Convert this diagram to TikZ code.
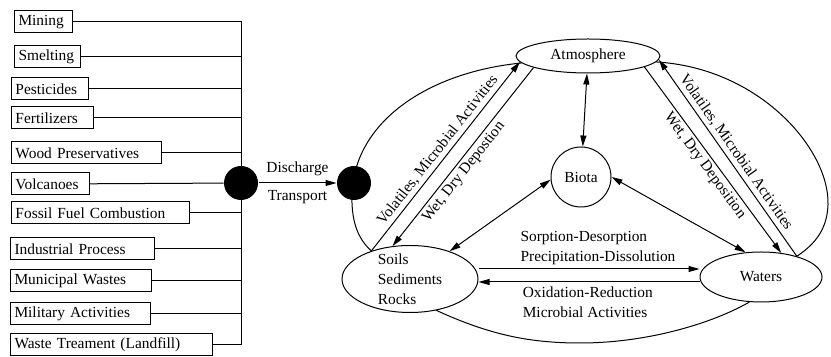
\documentclass[tikz,border=0pt]{standalone}
\usepackage{fontspec}
\setmainfont{Liberation Serif}
\usetikzlibrary{arrows.meta,shapes.geometric,calc}

\begin{document}
\begin{tikzpicture}[
  x=0.5pt, y=-0.5pt,
  every node/.style={font=\fontsize{7.7}{10}\selectfont},
  src/.style={rectangle, draw, anchor=west, text width=#1, align=left,
              inner xsep=2pt, inner ysep=0pt, minimum height=11pt},
  hub/.style={circle, fill=black, minimum size=17pt, inner sep=0pt},
  comp/.style={ellipse, draw, inner sep=0pt},
  arr/.style={-{Triangle[length=5.5pt,width=3pt]}},
  rarr/.style={{Triangle[length=5.5pt,width=3pt]}-},
  darr/.style={{Triangle[length=5.5pt,width=3pt]}-{Triangle[length=5.5pt,width=3pt]}},
  lbl/.style={sloped, inner sep=1.5pt},
  line width=0.5pt
]
  \useasboundingbox (0,0) rectangle (831,357);

  % -- sources --
  \node[src=25pt]   (mining)      at (14,22)  {Mining};
  \node[src=29pt]   (smelting)    at (14,57)  {Smelting};
  \node[src=34.5pt] (pesticides)  at (11,89)  {Pesticides};
  \node[src=37pt]   (fertilizers) at (11,118) {Fertilizers};
  \node[src=71pt]   (wood)        at (11,153) {Wood Preservatives};
  \node[src=35pt]   (volcanoes)   at (11,184) {Volcanoes};
  \node[src=85pt]   (fossil)      at (11,213) {Fossil Fuel Combustion};
  \node[src=68pt]   (industrial)  at (10,249) {Industrial Process};
  \node[src=66.5pt] (municipal)   at (10,281) {Municipal Wastes};
  \node[src=66pt]   (military)    at (10,314) {Military Activities};
  \node[src=97pt]   (landfill)    at (10,345) {Waste Treament (Landfill)};

  \node[hub] (hubL) at (241,183) {};
  \node[hub] (hubR) at (354,183) {};

  \draw (mining.east) -- (mining.east -| hubL) -- (landfill.east -| hubL) -- (landfill.east);
  \foreach \s in {smelting,pesticides,fertilizers,wood,fossil,industrial,municipal,military}
    \draw (\s.east) -- (\s.east -| hubL);
  \draw (volcanoes) -- (hubL);

  \draw[arr] (hubL) -- node[above]{Discharge} node[below]{Transport} (hubR);

  % -- compartments --
  \node[comp, minimum width=72pt, minimum height=17pt] (atm) at (588,56) {Atmosphere};
  \node[circle, draw, minimum size=30pt, inner sep=0pt] (biota) at (581,177) {Biota};
  \node[comp, minimum width=68pt, minimum height=33.5pt, inner ysep=-1pt, align=left] (soils) at (410,279) {Soils\\Sediments\\Rocks};
  \node[comp, minimum width=61pt, minimum height=25pt] (waters) at (761,277) {Waters};

  % -- outer loop --
  \draw (atm.186) .. controls (430,72) and (356,120) .. (352,192)
                  .. controls (351,220) and (357,238) .. (soils.144);
  \draw (soils.310) .. controls (490,335) and (530,343) .. (580,343)
                    .. controls (650,343) and (715,322) .. (waters.245);
  \draw (atm.355) .. controls (760,68) and (830,150) .. (828,205)
                  .. controls (827,232) and (812,246) .. (waters.30);

  % -- exchanges --
  \draw[arr] (soils.144) -- node[lbl, above]{Volatiles, Microbial Activities} (atm.185);
  \draw[rarr] (soils.118) -- node[lbl, below, pos=0.45]{Wet, Dry Depostion} (atm.192);
  \draw[arr] (atm.349) -- node[lbl, below]{Wet, Dry Deposition} (waters.50);
  \draw[rarr] (atm.357) -- node[lbl, above]{Volatiles, Microbial Activities} (waters.30);

  \draw[darr] (atm) -- (biota);
  \draw[darr] (biota.185) -- (soils.35);
  \draw[darr] (biota.east) -- (waters.122);

  \draw[arr] ($(soils.east)+(0,-10)$) -- node[above right, pos=0.17, align=left, inner sep=2pt]
    {Sorption-Desorption\\Precipitation-Dissolution} ($(soils.east -| waters.west)+(0,-10)$);
  \draw[arr] ($(soils.east -| waters.west)+(0,3)$) -- node[below right, pos=0.82, align=left, inner sep=2pt]
    {Oxidation-Reduction\\Microbial Activities} ($(soils.east)+(0,3)$);
\end{tikzpicture}
\end{document}
